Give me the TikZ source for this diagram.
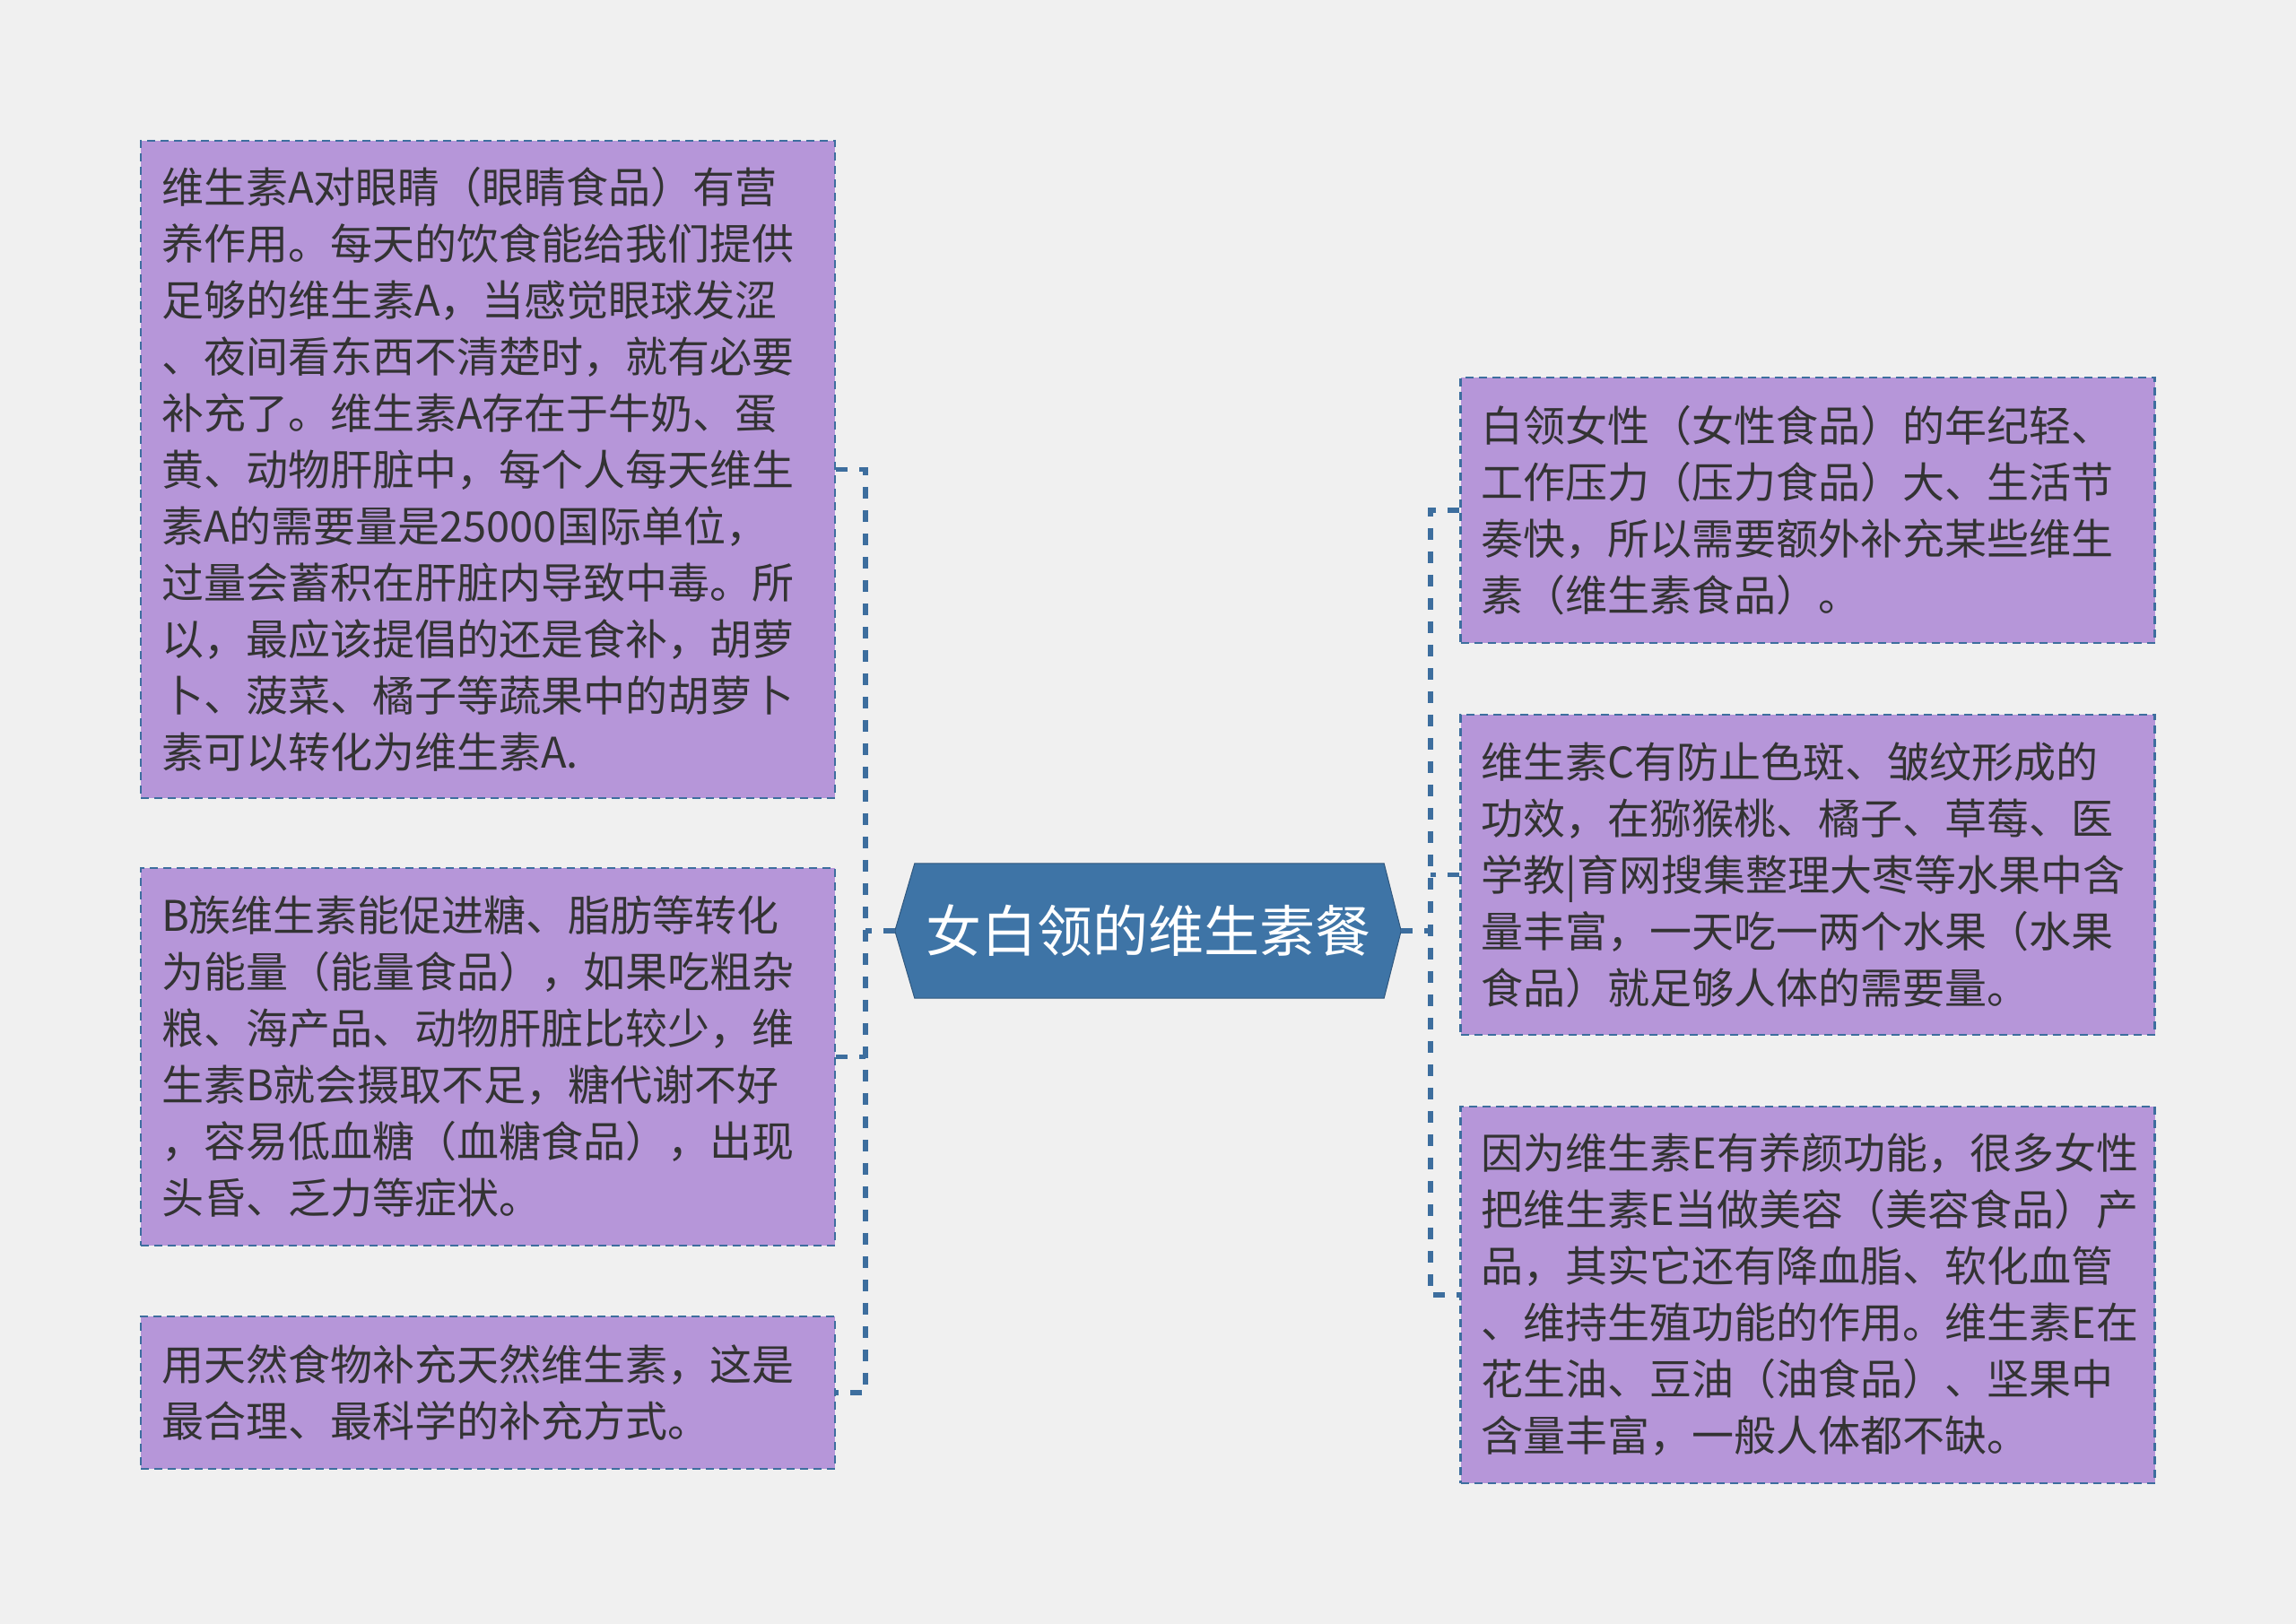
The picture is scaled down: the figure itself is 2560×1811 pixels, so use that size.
\documentclass[tikz,border=0pt]{standalone}
\usepackage{fontspec}
\setmainfont{Noto Sans CJK SC}
\definecolor{bgcol}{HTML}{F0F0F0}
\definecolor{boxfill}{HTML}{B696D9}
\definecolor{bordercol}{HTML}{3D6E9E}
\definecolor{centerfill}{HTML}{3E74A6}
\definecolor{txtcol}{HTML}{333333}
\tikzset{
  textbox/.style={draw=bordercol, line width=2.5pt, dash pattern=on 9pt off 6pt,
    fill=boxfill, text=txtcol, font=\fontsize{47}{63}\selectfont, align=left,
    inner xsep=23pt, inner ysep=0pt, text width=728pt},
  conn/.style={draw=bordercol, line width=5.5pt, dash pattern=on 13pt off 13pt},
}
\begin{document}
\begin{tikzpicture}[x=1pt,y=-1pt]
\fill[bgcol] (0,0) rectangle (2560,1811);
\useasboundingbox (0,0) rectangle (2560,1811);

% left boxes
\node[textbox, minimum height=733pt] (l1) at (544,523.5) {维生素A对眼睛（眼睛食品）有营\\养作用。每天的饮食能给我们提供\\足够的维生素A，当感觉眼球发涩\\、夜间看东西不清楚时，就有必要\\补充了。维生素A存在于牛奶、蛋\\黄、动物肝脏中，每个人每天维生\\素A的需要量是25000国际单位，\\过量会蓄积在肝脏内导致中毒。所\\以，最应该提倡的还是食补，胡萝\\卜、菠菜、橘子等蔬果中的胡萝卜\\素可以转化为维生素A.};
\node[textbox, minimum height=421pt] (l2) at (544,1178.5) {B族维生素能促进糖、脂肪等转化\\为能量（能量食品），如果吃粗杂\\粮、海产品、动物肝脏比较少，维\\生素B就会摄取不足，糖代谢不好\\，容易低血糖（血糖食品），出现\\头昏、乏力等症状。};
\node[textbox, minimum height=170pt] (l3) at (544,1553) {用天然食物补充天然维生素，这是\\最合理、最科学的补充方式。};

% right boxes
\node[textbox, minimum height=296pt] (r1) at (2015.5,569) {白领女性（女性食品）的年纪轻、\\工作压力（压力食品）大、生活节\\奏快，所以需要额外补充某些维生\\素（维生素食品）。};
\node[textbox, minimum height=357pt] (r2) at (2015.5,975.5) {维生素C有防止色斑、皱纹形成的\\功效，在猕猴桃、橘子、草莓、医\\学教|育网搜集整理大枣等水果中含\\量丰富，一天吃一两个水果（水果\\食品）就足够人体的需要量。};
\node[textbox, minimum height=420pt] (r3) at (2015.5,1444) {因为维生素E有养颜功能，很多女性\\把维生素E当做美容（美容食品）产\\品，其实它还有降血脂、软化血管\\、维持生殖功能的作用。维生素E在\\花生油、豆油（油食品）、坚果中\\含量丰富，一般人体都不缺。};

% center node
\node[minimum width=564pt, minimum height=150pt, inner sep=0pt] (c) at (1280,1038) {};
\fill[centerfill, draw=bordercol!80!black, line width=1pt]
  (c.west) -- ([xshift=22pt]c.north west) -- ([xshift=-19pt]c.north east)
  -- (c.east) -- ([xshift=-19pt]c.south east) -- ([xshift=22pt]c.south west) -- cycle;
\node[text=white, font=\fontsize{62}{70}\selectfont, inner sep=0pt] (ct) at (c.center) {女白领的维生素餐};

% connectors
\coordinate (lj) at (965,1038);
\coordinate (rj) at (1595,1038);
\draw[conn] (l1.east) -| (lj) |- (l3.east);
\draw[conn] (l2.east) -- (l2.east -| lj);
\draw[conn] (c.west) -- (lj);
\draw[conn] (r1.west) -| (rj) |- (r3.west);
\draw[conn] (r2.west) -- (r2.west -| rj);
\draw[conn] (c.east) -- (rj);
\end{tikzpicture}
\end{document}
